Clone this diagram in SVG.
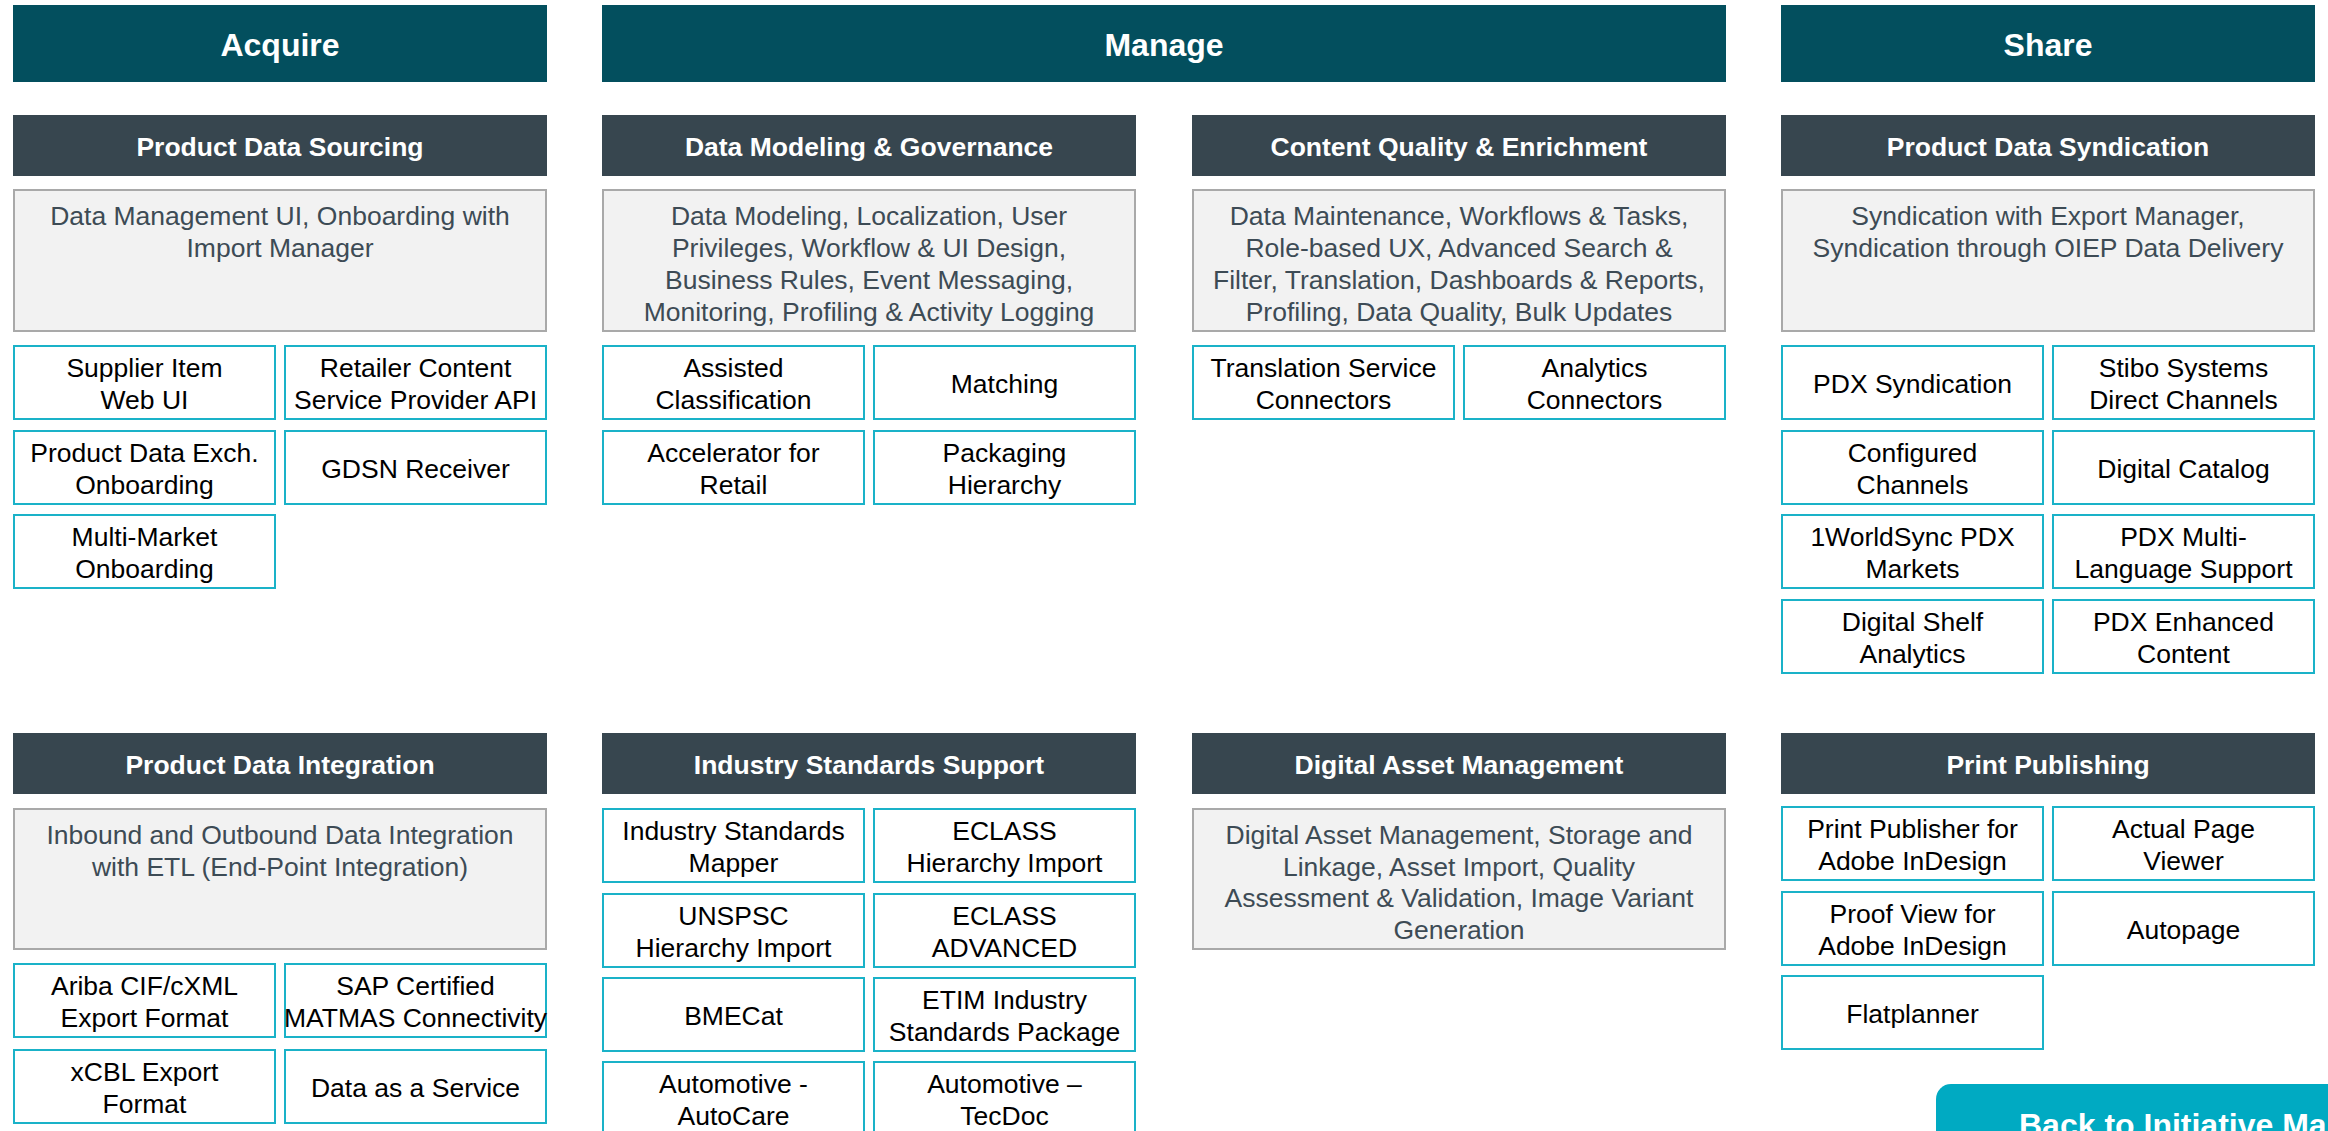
<svg xmlns="http://www.w3.org/2000/svg" width="2328" height="1131" viewBox="0 0 2328 1131">
  <style>
    text { font-family: "Liberation Sans", Arial, sans-serif; text-anchor: middle; }
    .bar { fill: #034F5E; }
    .hdr { fill: #37464F; }
    .desc { fill: #F2F2F2; stroke: #A9A9A9; stroke-width: 2; }
    .box { fill: #FFFFFF; stroke: #1AB2C8; stroke-width: 2; }
    .btn { fill: #00AAC2; }
    .t-bar { font-size: 32px; font-weight: bold; fill: #FFFFFF; }
    .t-hdr { font-size: 26.5px; font-weight: bold; fill: #FFFFFF; }
    .t-desc { font-size: 26.5px; fill: #3D4B55; }
    .t-box { font-size: 26.5px; fill: #000000; }
    .t-btn { font-size: 32px; font-weight: bold; fill: #FFFFFF; text-anchor: start; }
  </style>
  <rect width="2328" height="1131" fill="#FFFFFF"/>

  <!-- Stage banners -->
  <g id="stage-acquire">
    <rect class="bar" x="13" y="5" width="534" height="77"/>
    <text class="t-bar" x="280" y="56">Acquire</text>
  </g>
  <g id="stage-manage">
    <rect class="bar" x="602" y="5" width="1124" height="77"/>
    <text class="t-bar" x="1164" y="56">Manage</text>
  </g>
  <g id="stage-share">
    <rect class="bar" x="1781" y="5" width="534" height="77"/>
    <text class="t-bar" x="2048" y="56">Share</text>
  </g>

  <!-- ===== Upper row of capability blocks ===== -->
  <g id="product-data-sourcing">
    <rect class="hdr" x="13" y="115" width="534" height="61"/>
    <text class="t-hdr" x="280" y="156">Product Data Sourcing</text>
    <rect class="desc" x="14" y="190" width="532" height="141"/>
    <text class="t-desc" x="280" y="225">Data Management UI, Onboarding with</text>
    <text class="t-desc" x="280" y="257">Import Manager</text>
  </g>
  <g id="supplier-item-web-ui">
    <rect class="box" x="14" y="346" width="261" height="73"/>
    <text class="t-box" x="144.5" y="377">Supplier Item</text>
    <text class="t-box" x="144.5" y="409">Web UI</text>
  </g>
  <g id="retailer-content-api">
    <rect class="box" x="285" y="346" width="261" height="73"/>
    <text class="t-box" x="415.5" y="377">Retailer Content</text>
    <text class="t-box" x="415.5" y="409">Service Provider API</text>
  </g>
  <g id="pdx-onboarding">
    <rect class="box" x="14" y="431" width="261" height="73"/>
    <text class="t-box" x="144.5" y="462">Product Data Exch.</text>
    <text class="t-box" x="144.5" y="494">Onboarding</text>
  </g>
  <g id="gdsn-receiver">
    <rect class="box" x="285" y="431" width="261" height="73"/>
    <text class="t-box" x="415.5" y="478">GDSN Receiver</text>
  </g>
  <g id="multi-market-onboarding">
    <rect class="box" x="14" y="515" width="261" height="73"/>
    <text class="t-box" x="144.5" y="546">Multi-Market</text>
    <text class="t-box" x="144.5" y="578">Onboarding</text>
  </g>

  <g id="data-modeling-governance">
    <rect class="hdr" x="602" y="115" width="534" height="61"/>
    <text class="t-hdr" x="869" y="156">Data Modeling &amp; Governance</text>
    <rect class="desc" x="603" y="190" width="532" height="141"/>
    <text class="t-desc" x="869" y="225">Data Modeling, Localization, User</text>
    <text class="t-desc" x="869" y="257">Privileges, Workflow &amp; UI Design,</text>
    <text class="t-desc" x="869" y="289">Business Rules, Event Messaging,</text>
    <text class="t-desc" x="869" y="321">Monitoring, Profiling &amp; Activity Logging</text>
  </g>
  <g id="assisted-classification">
    <rect class="box" x="603" y="346" width="261" height="73"/>
    <text class="t-box" x="733.5" y="377">Assisted</text>
    <text class="t-box" x="733.5" y="409">Classification</text>
  </g>
  <g id="matching">
    <rect class="box" x="874" y="346" width="261" height="73"/>
    <text class="t-box" x="1004.5" y="393">Matching</text>
  </g>
  <g id="accelerator-retail">
    <rect class="box" x="603" y="431" width="261" height="73"/>
    <text class="t-box" x="733.5" y="462">Accelerator for</text>
    <text class="t-box" x="733.5" y="494">Retail</text>
  </g>
  <g id="packaging-hierarchy">
    <rect class="box" x="874" y="431" width="261" height="73"/>
    <text class="t-box" x="1004.5" y="462">Packaging</text>
    <text class="t-box" x="1004.5" y="494">Hierarchy</text>
  </g>

  <g id="content-quality-enrichment">
    <rect class="hdr" x="1192" y="115" width="534" height="61"/>
    <text class="t-hdr" x="1459" y="156">Content Quality &amp; Enrichment</text>
    <rect class="desc" x="1193" y="190" width="532" height="141"/>
    <text class="t-desc" x="1459" y="225">Data Maintenance, Workflows &amp; Tasks,</text>
    <text class="t-desc" x="1459" y="257">Role-based UX, Advanced Search &amp;</text>
    <text class="t-desc" x="1459" y="289">Filter, Translation, Dashboards &amp; Reports,</text>
    <text class="t-desc" x="1459" y="321">Profiling, Data Quality, Bulk Updates</text>
  </g>
  <g id="translation-connectors">
    <rect class="box" x="1193" y="346" width="261" height="73"/>
    <text class="t-box" x="1323.5" y="377">Translation Service</text>
    <text class="t-box" x="1323.5" y="409">Connectors</text>
  </g>
  <g id="analytics-connectors">
    <rect class="box" x="1464" y="346" width="261" height="73"/>
    <text class="t-box" x="1594.5" y="377">Analytics</text>
    <text class="t-box" x="1594.5" y="409">Connectors</text>
  </g>

  <g id="product-data-syndication">
    <rect class="hdr" x="1781" y="115" width="534" height="61"/>
    <text class="t-hdr" x="2048" y="156">Product Data Syndication</text>
    <rect class="desc" x="1782" y="190" width="532" height="141"/>
    <text class="t-desc" x="2048" y="225">Syndication with Export Manager,</text>
    <text class="t-desc" x="2048" y="257">Syndication through OIEP Data Delivery</text>
  </g>
  <g id="pdx-syndication">
    <rect class="box" x="1782" y="346" width="261" height="73"/>
    <text class="t-box" x="1912.5" y="393">PDX Syndication</text>
  </g>
  <g id="direct-channels">
    <rect class="box" x="2053" y="346" width="261" height="73"/>
    <text class="t-box" x="2183.5" y="377">Stibo Systems</text>
    <text class="t-box" x="2183.5" y="409">Direct Channels</text>
  </g>
  <g id="configured-channels">
    <rect class="box" x="1782" y="431" width="261" height="73"/>
    <text class="t-box" x="1912.5" y="462">Configured</text>
    <text class="t-box" x="1912.5" y="494">Channels</text>
  </g>
  <g id="digital-catalog">
    <rect class="box" x="2053" y="431" width="261" height="73"/>
    <text class="t-box" x="2183.5" y="478">Digital Catalog</text>
  </g>
  <g id="worldsync-pdx-markets">
    <rect class="box" x="1782" y="515" width="261" height="73"/>
    <text class="t-box" x="1912.5" y="546">1WorldSync PDX</text>
    <text class="t-box" x="1912.5" y="578">Markets</text>
  </g>
  <g id="pdx-multi-language">
    <rect class="box" x="2053" y="515" width="261" height="73"/>
    <text class="t-box" x="2183.5" y="546">PDX Multi-</text>
    <text class="t-box" x="2183.5" y="578">Language Support</text>
  </g>
  <g id="digital-shelf-analytics">
    <rect class="box" x="1782" y="600" width="261" height="73"/>
    <text class="t-box" x="1912.5" y="631">Digital Shelf</text>
    <text class="t-box" x="1912.5" y="663">Analytics</text>
  </g>
  <g id="pdx-enhanced-content">
    <rect class="box" x="2053" y="600" width="261" height="73"/>
    <text class="t-box" x="2183.5" y="631">PDX Enhanced</text>
    <text class="t-box" x="2183.5" y="663">Content</text>
  </g>

  <!-- ===== Lower row of capability blocks ===== -->
  <g id="product-data-integration">
    <rect class="hdr" x="13" y="733" width="534" height="61"/>
    <text class="t-hdr" x="280" y="774">Product Data Integration</text>
    <rect class="desc" x="14" y="809" width="532" height="140"/>
    <text class="t-desc" x="280" y="844">Inbound and Outbound Data Integration</text>
    <text class="t-desc" x="280" y="876">with ETL (End-Point Integration)</text>
  </g>
  <g id="ariba-export">
    <rect class="box" x="14" y="964" width="261" height="73"/>
    <text class="t-box" x="144.5" y="995">Ariba CIF/cXML</text>
    <text class="t-box" x="144.5" y="1027">Export Format</text>
  </g>
  <g id="sap-matmas">
    <rect class="box" x="285" y="964" width="261" height="73"/>
    <text class="t-box" x="415.5" y="995">SAP Certified</text>
    <text class="t-box" x="415.5" y="1027">MATMAS Connectivity</text>
  </g>
  <g id="xcbl-export">
    <rect class="box" x="14" y="1050" width="261" height="73"/>
    <text class="t-box" x="144.5" y="1081">xCBL Export</text>
    <text class="t-box" x="144.5" y="1113">Format</text>
  </g>
  <g id="data-as-a-service">
    <rect class="box" x="285" y="1050" width="261" height="73"/>
    <text class="t-box" x="415.5" y="1097">Data as a Service</text>
  </g>

  <g id="industry-standards-support">
    <rect class="hdr" x="602" y="733" width="534" height="61"/>
    <text class="t-hdr" x="869" y="774">Industry Standards Support</text>
  </g>
  <g id="standards-mapper">
    <rect class="box" x="603" y="809" width="261" height="73"/>
    <text class="t-box" x="733.5" y="840">Industry Standards</text>
    <text class="t-box" x="733.5" y="872">Mapper</text>
  </g>
  <g id="eclass-hierarchy">
    <rect class="box" x="874" y="809" width="261" height="73"/>
    <text class="t-box" x="1004.5" y="840">ECLASS</text>
    <text class="t-box" x="1004.5" y="872">Hierarchy Import</text>
  </g>
  <g id="unspsc-hierarchy">
    <rect class="box" x="603" y="894" width="261" height="73"/>
    <text class="t-box" x="733.5" y="925">UNSPSC</text>
    <text class="t-box" x="733.5" y="957">Hierarchy Import</text>
  </g>
  <g id="eclass-advanced">
    <rect class="box" x="874" y="894" width="261" height="73"/>
    <text class="t-box" x="1004.5" y="925">ECLASS</text>
    <text class="t-box" x="1004.5" y="957">ADVANCED</text>
  </g>
  <g id="bmecat">
    <rect class="box" x="603" y="978" width="261" height="73"/>
    <text class="t-box" x="733.5" y="1025">BMECat</text>
  </g>
  <g id="etim-package">
    <rect class="box" x="874" y="978" width="261" height="73"/>
    <text class="t-box" x="1004.5" y="1009">ETIM Industry</text>
    <text class="t-box" x="1004.5" y="1041">Standards Package</text>
  </g>
  <g id="automotive-autocare">
    <rect class="box" x="603" y="1062" width="261" height="73"/>
    <text class="t-box" x="733.5" y="1093">Automotive -</text>
    <text class="t-box" x="733.5" y="1125">AutoCare</text>
  </g>
  <g id="automotive-tecdoc">
    <rect class="box" x="874" y="1062" width="261" height="73"/>
    <text class="t-box" x="1004.5" y="1093">Automotive –</text>
    <text class="t-box" x="1004.5" y="1125">TecDoc</text>
  </g>

  <g id="digital-asset-management">
    <rect class="hdr" x="1192" y="733" width="534" height="61"/>
    <text class="t-hdr" x="1459" y="774">Digital Asset Management</text>
    <rect class="desc" x="1193" y="809" width="532" height="140"/>
    <text class="t-desc" x="1459" y="844">Digital Asset Management, Storage and</text>
    <text class="t-desc" x="1459" y="876">Linkage, Asset Import, Quality</text>
    <text class="t-desc" x="1459" y="907">Assessment &amp; Validation, Image Variant</text>
    <text class="t-desc" x="1459" y="939">Generation</text>
  </g>

  <g id="print-publishing">
    <rect class="hdr" x="1781" y="733" width="534" height="61"/>
    <text class="t-hdr" x="2048" y="774">Print Publishing</text>
  </g>
  <g id="print-publisher-indesign">
    <rect class="box" x="1782" y="807" width="261" height="73"/>
    <text class="t-box" x="1912.5" y="838">Print Publisher for</text>
    <text class="t-box" x="1912.5" y="870">Adobe InDesign</text>
  </g>
  <g id="actual-page-viewer">
    <rect class="box" x="2053" y="807" width="261" height="73"/>
    <text class="t-box" x="2183.5" y="838">Actual Page</text>
    <text class="t-box" x="2183.5" y="870">Viewer</text>
  </g>
  <g id="proof-view-indesign">
    <rect class="box" x="1782" y="892" width="261" height="73"/>
    <text class="t-box" x="1912.5" y="923">Proof View for</text>
    <text class="t-box" x="1912.5" y="955">Adobe InDesign</text>
  </g>
  <g id="autopage">
    <rect class="box" x="2053" y="892" width="261" height="73"/>
    <text class="t-box" x="2183.5" y="939">Autopage</text>
  </g>
  <g id="flatplanner">
    <rect class="box" x="1782" y="976" width="261" height="73"/>
    <text class="t-box" x="1912.5" y="1023">Flatplanner</text>
  </g>

  <!-- Navigation button, runs off the page edge -->
  <g id="back-button">
    <rect class="btn" x="1936" y="1084" width="440" height="90" rx="15" ry="15"/>
    <text class="t-btn" x="2019" y="1136">Back to Initiative Map</text>
  </g>
</svg>
